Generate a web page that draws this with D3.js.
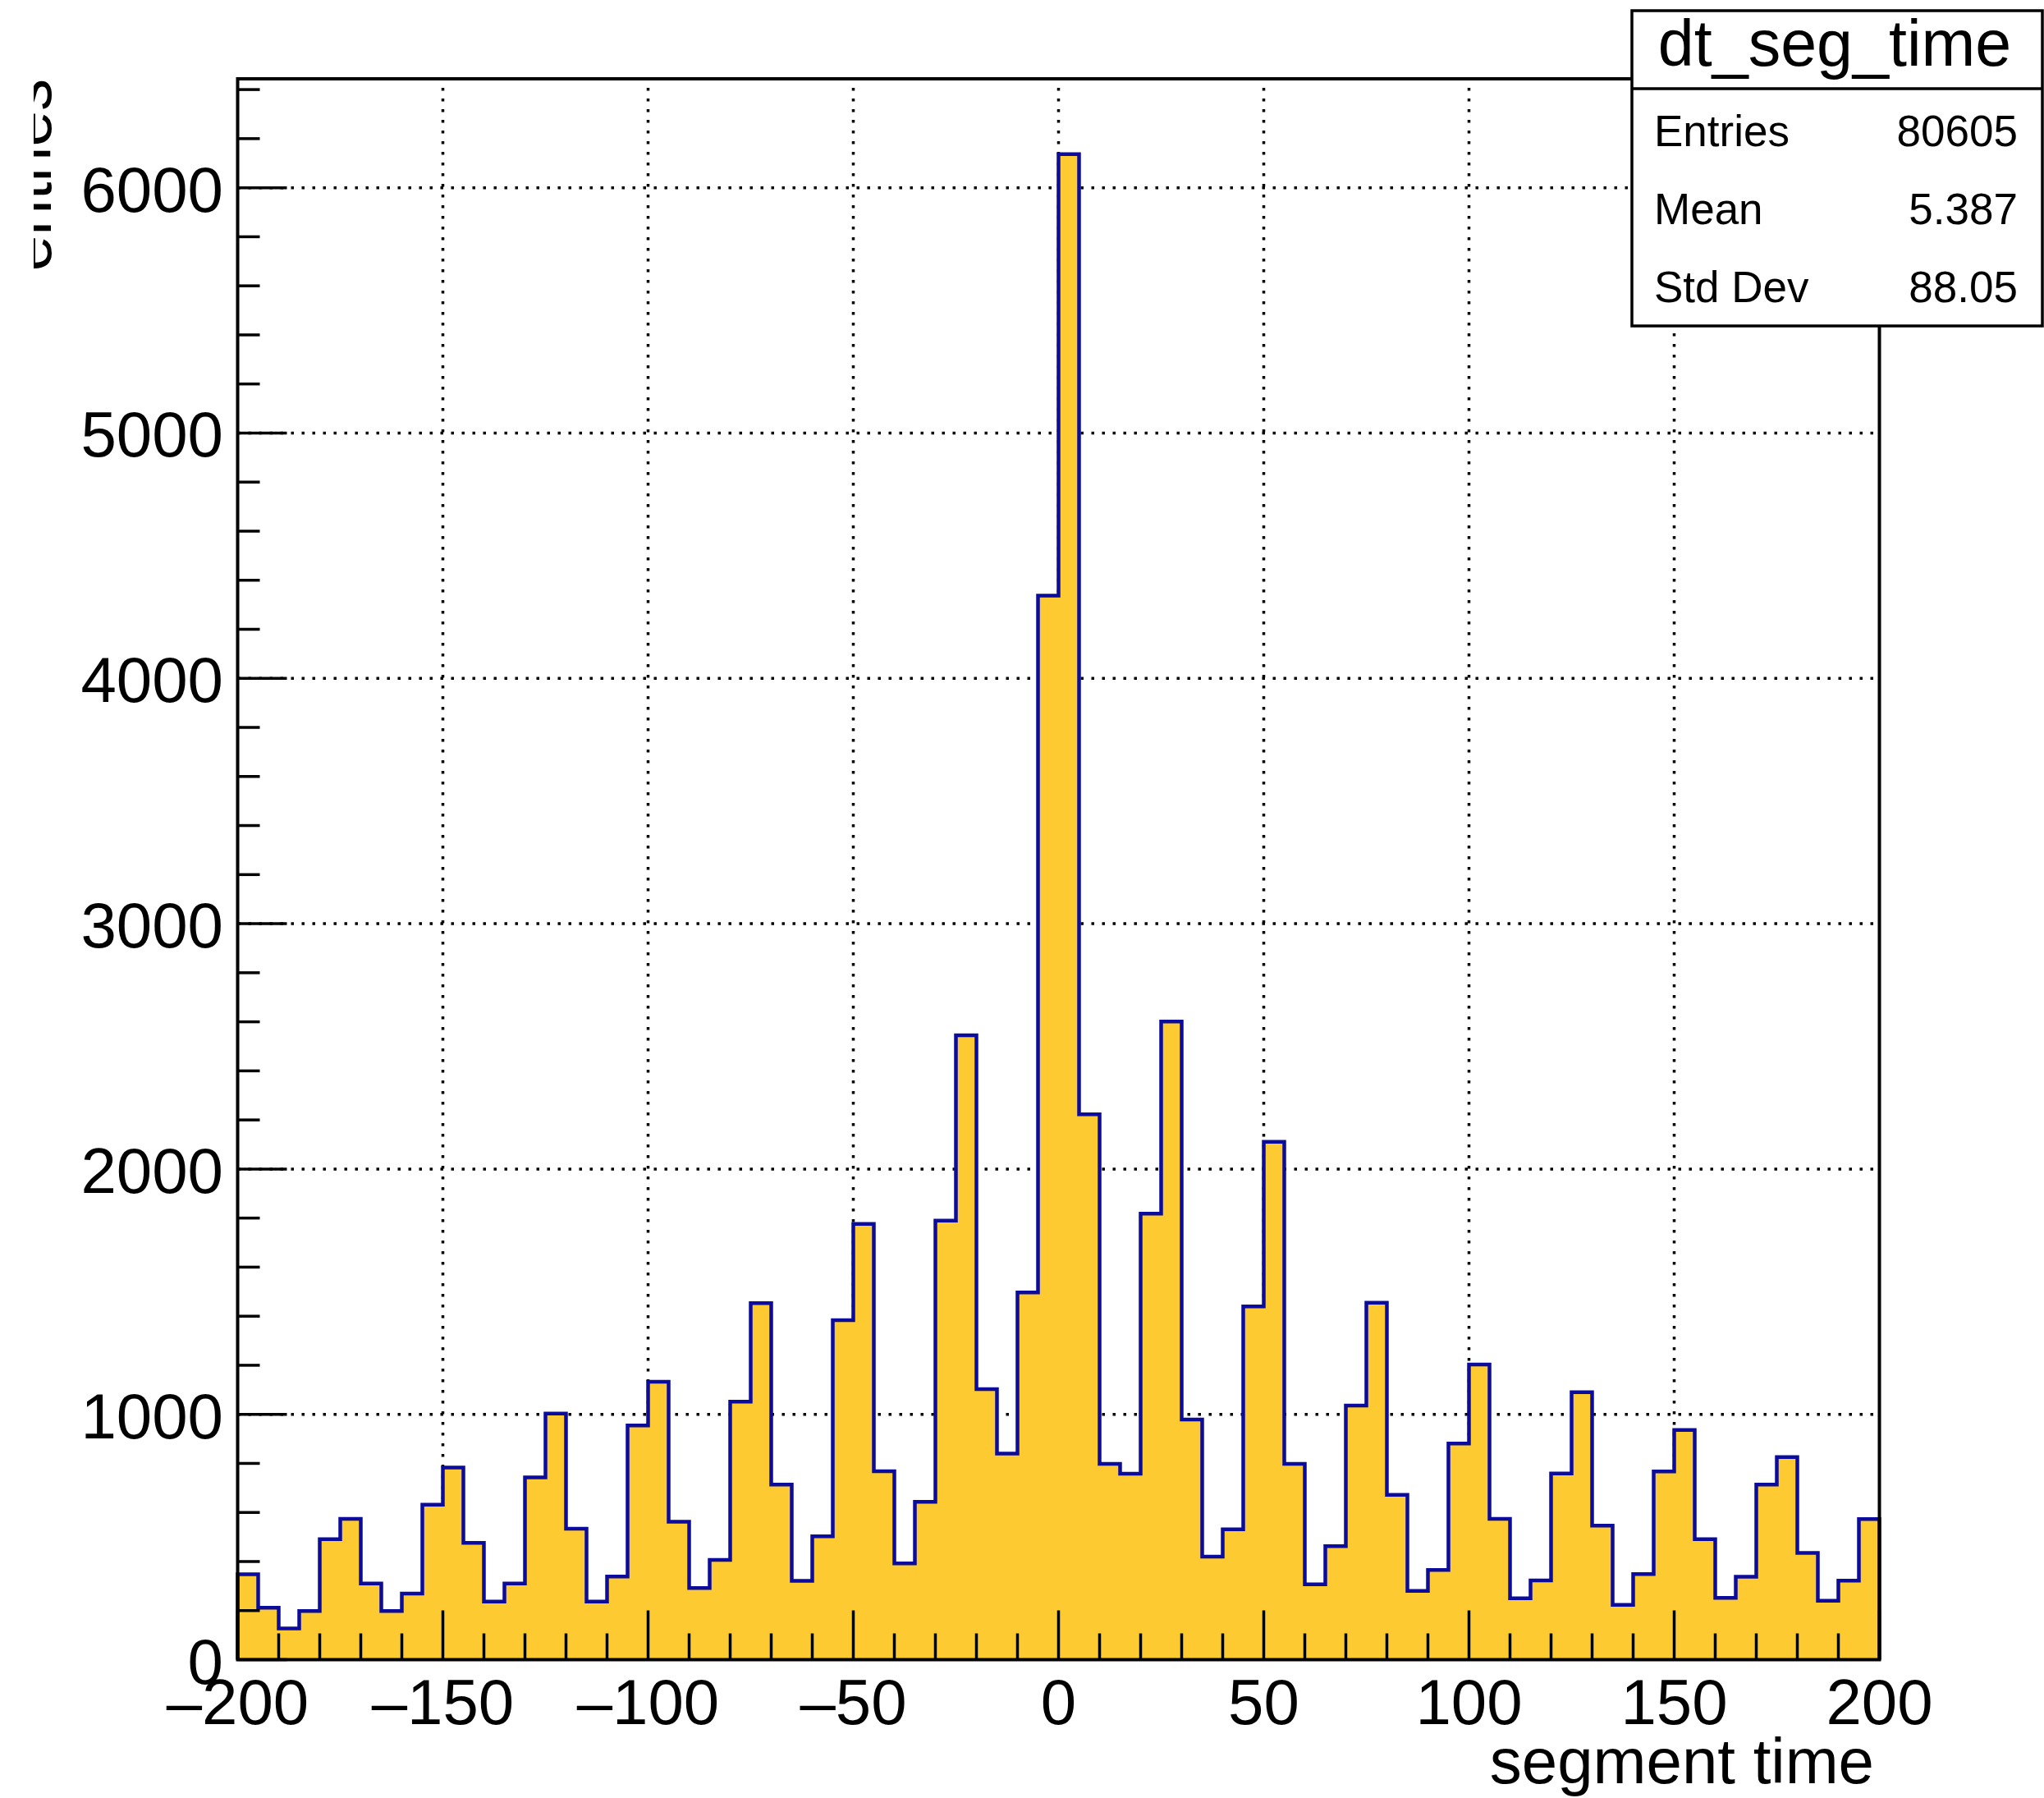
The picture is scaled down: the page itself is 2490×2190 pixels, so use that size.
<!DOCTYPE html>
<html>
<head>
<meta charset="utf-8">
<script src="https://cdn.jsdelivr.net/npm/d3@7"></script>
<style>
  html, body { margin: 0; padding: 0; background: #ffffff; }
  svg { display: block; }
  text { font-family: "Liberation Sans", Arial, Helvetica, sans-serif; fill: #000; }
</style>
</head>
<body>
<script>
// Histogram dt_seg_time: 80 bins of width 5 between -200 and 200
const binLow = -200;
const binHigh = 200;
const binWidth = 5;
const binCounts = [
  348, 212, 127, 198, 491, 574, 310, 198, 269, 632,
  783, 476, 237, 310, 743, 1003, 534, 237, 339, 955,
  1133, 562, 292, 407, 1052, 1453, 714, 321, 503, 1384,
  1776, 768, 392, 643, 1790, 2545, 1103, 840, 1497, 4337,
  6137, 2223, 798, 758, 1818, 2601, 979, 420, 531, 1440,
  2111, 798, 307, 463, 1036, 1455, 672, 280, 366, 881,
  1203, 574, 250, 323, 759, 1090, 546, 223, 349, 767,
  936, 491, 252, 338, 714, 826, 435, 240, 322, 573
];
const xTickValues = [-200, -150, -100, -50, 0, 50, 100, 150, 200];
const yTickValues = [0, 1000, 2000, 3000, 4000, 5000, 6000];
const statLabels = ["Entries", "Mean", "Std Dev"];
const statValues = ["80605", "5.387", "88.05"];
const histTitle = "dt_seg_time";
const xTitle = "segment time";
const yTitle = "entries";

const W = 2490, H = 2190;
const frame = { left: 289.5, right: 2289.5, top: 96, bottom: 2021.5 };
const yMax = d3.max(binCounts) * 1.05;

const svg = d3.select("body").append("svg")
  .attr("width", W).attr("height", H)
  .attr("viewBox", `0 0 ${W} ${H}`);

const x = d3.scaleLinear().domain([binLow, binHigh]).range([frame.left, frame.right]);
const y = d3.scaleLinear().domain([0, yMax]).range([frame.bottom, frame.top]);

const fmtMinus = v => (v < 0 ? "\u2013" + Math.abs(v) : String(v));

// Dotted grid at the major ticks
const grid = svg.append("g")
  .attr("stroke", "#000").attr("stroke-width", 3.5)
  .attr("stroke-dasharray", "3.5 9.5");
grid.selectAll("line.v")
  .data(xTickValues.filter(v => v > binLow && v < binHigh))
  .join("line").attr("class", "v")
  .attr("x1", d => x(d)).attr("x2", d => x(d))
  .attr("y1", frame.bottom).attr("y2", frame.top);
grid.selectAll("line.h")
  .data(yTickValues.filter(v => v > 0))
  .join("line").attr("class", "h")
  .attr("x1", frame.left).attr("x2", frame.right)
  .attr("y1", d => y(d)).attr("y2", d => y(d));

// Step points: left edge of every bin plus the closing right edge
const steps = binCounts.map((c, i) => ({ e: binLow + i * binWidth, c }));
steps.push({ e: binHigh, c: binCounts[binCounts.length - 1] });

const area = d3.area()
  .x(d => x(d.e)).y0(y(0)).y1(d => y(d.c))
  .curve(d3.curveStepAfter);
svg.append("path").datum(steps)
  .attr("d", area)
  .attr("fill", "#fdca31");

const outline = [{ e: binLow, c: 0 }].concat(steps);
const line = d3.line()
  .x(d => x(d.e)).y(d => y(d.c))
  .curve(d3.curveStepAfter);
svg.append("path").datum(outline.concat([{ e: binHigh, c: 0 }]))
  .attr("d", line)
  .attr("fill", "none")
  .attr("stroke", "#0c0c9c")
  .attr("stroke-width", 4.5)
  .attr("stroke-linejoin", "miter");

// Ticks pointing into the frame
const ticks = svg.append("g").attr("stroke", "#000").attr("stroke-width", 3.5);
const xMinor = d3.range(binLow, binHigh + 1, 10);
ticks.selectAll("line.xt").data(xMinor).join("line").attr("class", "xt")
  .attr("x1", d => x(d)).attr("x2", d => x(d))
  .attr("y1", frame.bottom)
  .attr("y2", d => frame.bottom - (d % 50 === 0 ? 60 : 32));
const yMinor = d3.range(0, yMax, 200);
ticks.selectAll("line.yt").data(yMinor).join("line").attr("class", "yt")
  .attr("y1", d => y(d)).attr("y2", d => y(d))
  .attr("x1", frame.left)
  .attr("x2", d => frame.left + (d % 1000 === 0 ? 60 : 27));

// Frame
svg.append("rect")
  .attr("x", frame.left).attr("y", frame.top)
  .attr("width", frame.right - frame.left)
  .attr("height", frame.bottom - frame.top)
  .attr("fill", "none").attr("stroke", "#000").attr("stroke-width", 4);

// Tick labels
svg.append("g").selectAll("text").data(xTickValues).join("text")
  .attr("x", d => x(d)).attr("y", 2100)
  .attr("text-anchor", "middle")
  .attr("font-size", 78)
  .text(fmtMinus);
svg.append("g").selectAll("text").data(yTickValues).join("text")
  .attr("x", 272).attr("y", d => y(d) + 29)
  .attr("text-anchor", "end")
  .attr("font-size", 78)
  .text(d => String(d));

// Axis titles
svg.append("text")
  .attr("x", 2283).attr("y", 2172)
  .attr("text-anchor", "end")
  .attr("font-size", 78)
  .text(xTitle);

svg.append("clipPath").attr("id", "ytitle-clip")
  .append("rect").attr("x", 41).attr("y", 0).attr("width", 200).attr("height", 600);
svg.append("g").attr("clip-path", "url(#ytitle-clip)")
  .append("text")
  .attr("transform", "translate(62,96) rotate(-90)")
  .attr("text-anchor", "end")
  .attr("font-size", 78)
  .text(yTitle);

// Statistics box
const box = { x: 1988, y: 13, w: 500, h: 384, sep: 108 };
const stats = svg.append("g");
stats.append("rect")
  .attr("x", box.x).attr("y", box.y).attr("width", box.w).attr("height", box.h)
  .attr("fill", "#fff").attr("stroke", "#000").attr("stroke-width", 3.5);
stats.append("line")
  .attr("x1", box.x).attr("x2", box.x + box.w)
  .attr("y1", box.sep).attr("y2", box.sep)
  .attr("stroke", "#000").attr("stroke-width", 3.5);
stats.append("text")
  .attr("x", box.x + box.w / 2 - 3).attr("y", 80)
  .attr("text-anchor", "middle")
  .attr("font-size", 79)
  .text(histTitle);
const rowBase = [178, 273, 368];
stats.selectAll("text.lab").data(statLabels).join("text").attr("class", "lab")
  .attr("x", 2015).attr("y", (d, i) => rowBase[i])
  .attr("font-size", 53)
  .text(d => d);
stats.selectAll("text.val").data(statValues).join("text").attr("class", "val")
  .attr("x", 2458).attr("y", (d, i) => rowBase[i])
  .attr("text-anchor", "end")
  .attr("font-size", 53)
  .text(d => d);
</script>
</body>
</html>
